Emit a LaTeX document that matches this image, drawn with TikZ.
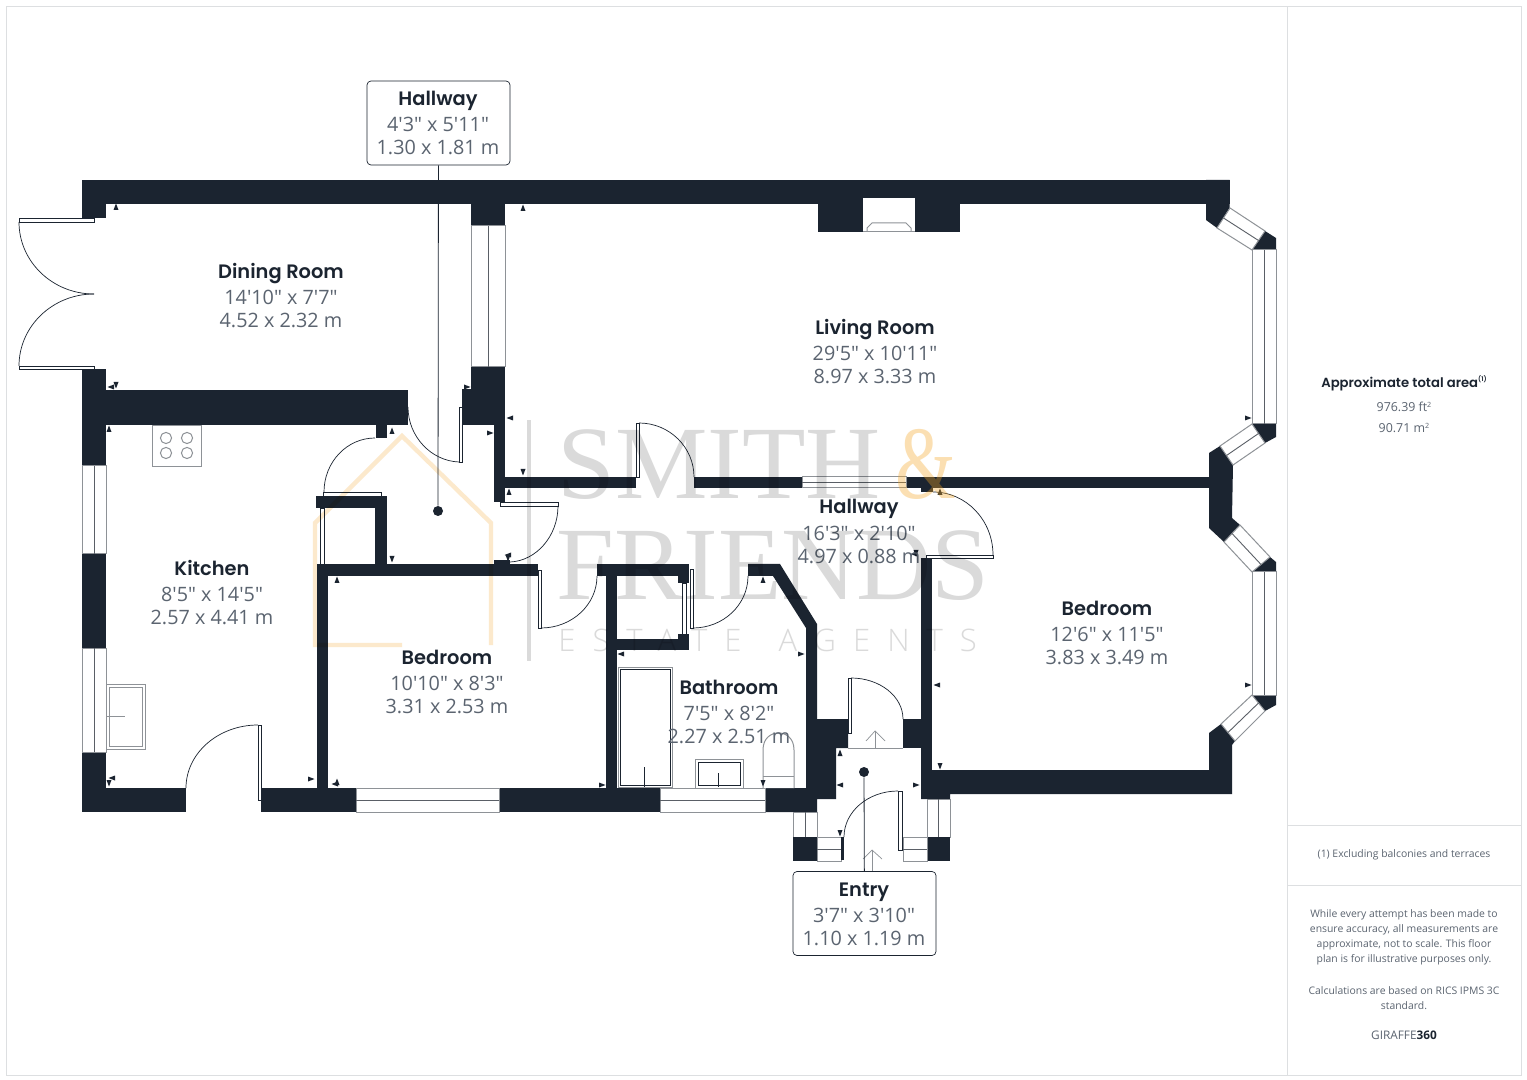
\documentclass[tikz,border=0pt]{standalone}
\usepackage{fontspec}
\setmainfont{Open Sans}[Ligatures=TeXOff]
\newfontfamily\ttlf{Poppins SemiBold}
\newfontfamily\wmserif{Liberation Serif}
\newfontfamily\wmsans[LetterSpace=55]{Open Sans Light}
\usetikzlibrary{calc}
\definecolor{wallc}{HTML}{1B2430}
\definecolor{dimc}{HTML}{5B6470}
\definecolor{framec}{HTML}{DDDFE1}
\definecolor{wing}{HTML}{8E9297}
\definecolor{wmid}{HTML}{5A5F66}
\definecolor{wmgray}{HTML}{DADADA}
\definecolor{wmorange}{HTML}{FCE9CC}
\definecolor{wmamp}{HTML}{F5A623}
\tikzset{
  wallfill/.style={fill=wallc,draw=none},
  thin line/.style={draw=wallc,line width=0.35pt,fill=white},
  winbox/.style={draw=wing,line width=0.5pt,fill=white},
  winmid/.style={draw=wmid,line width=0.45pt},
  fixture/.style={draw=wing,line width=0.5pt,fill=white},
  doorarc/.style={draw=wallc,line width=0.35pt},
  mk/.style={fill=wallc,draw=none},
  ttl/.style={font=\ttlf\fontsize{9.7}{12}\selectfont,text=wallc,inner sep=0pt,anchor=base,yshift=-3.75pt},
  dimt/.style={font=\fontsize{9.9}{12}\selectfont,text=dimc,inner sep=0pt},
  smt/.style={font=\fontsize{5.2}{7}\selectfont,text=dimc,inner sep=0pt},
  lblbox/.style={draw=wallc,line width=0.35pt,fill=white,rounded corners=2pt,minimum width=71.5pt,minimum height=42pt,inner sep=0pt},
  dotn/.style={circle,fill=wallc,draw=none,minimum size=5pt,inner sep=0pt},
  leader/.style={draw=wallc,line width=0.4pt}
}
\newcommand{\wl}[4]{\fill[wallfill] (#1,#2) rectangle (#3,#4);}
\newcommand{\hwin}[4]{\draw[winbox] (#1,#2) rectangle (#3,#4); \draw[winmid] (#1,{(#2+#4)/2}) -- (#3,{(#2+#4)/2});}
\newcommand{\vwin}[4]{\draw[winbox] (#1,#2) rectangle (#3,#4); \draw[winmid] ({(#1+#3)/2},#2) -- ({(#1+#3)/2},#4);}
\newcommand{\thinr}[4]{\draw[thin line] (#1,#2) rectangle (#3,#4);}
\newcommand{\qarc}[6]{\draw[doorarc] (#1,#2) .. controls ($(#1,#2)!.5523!(#3,#4)$) and ($(#5,#6)!.5523!(#3,#4)$) .. (#5,#6);}
\newcommand{\mkU}[2]{\fill[mk] (#1-2.5,#2+3) -- (#1,#2-3.5) -- (#1+2.5,#2+3) -- cycle;}
\newcommand{\mkD}[2]{\fill[mk] (#1-2.5,#2-3) -- (#1,#2+3.5) -- (#1+2.5,#2-3) -- cycle;}
\newcommand{\mkL}[2]{\fill[mk] (#1+3,#2-2.5) -- (#1-3.5,#2) -- (#1+3,#2+2.5) -- cycle;}
\newcommand{\mkR}[2]{\fill[mk] (#1-3,#2-2.5) -- (#1+3.5,#2) -- (#1-3,#2+2.5) -- cycle;}
\begin{document}
\begin{tikzpicture}[x=0.5pt,y=-0.5pt]
\useasboundingbox (0,0) rectangle (1527,1080);
\fill[white] (0,0) rectangle (1527,1080);
% page frame
\draw[framec,line width=0.5pt] (6.5,6.5) rectangle (1521,1075);
\draw[framec,line width=0.5pt] (1287.5,6.5) -- (1287.5,1075);
\draw[framec,line width=0.5pt] (1287.5,825) -- (1521,825);
\draw[framec,line width=0.5pt] (1287.5,885) -- (1521,885);

% ---- walls
\wl{82}{180}{1229.5}{204}
\wl{82}{180}{106}{218}
\wl{82}{369}{106}{466}
\wl{106}{390}{408}{425}
\wl{376}{425}{387}{438}
\wl{82}{554}{106}{648}
\wl{82}{752}{106}{812}
\wl{106}{788}{186}{812}
\wl{261}{788}{356}{812}
\wl{499}{788}{660}{812}
\wl{765}{788}{817}{812}
% fireplace
\wl{818}{204}{960}{232}
\fill[white] (863,198) rectangle (915,232);
\draw[wing,line width=0.5pt] (863,232) -- (915,232);
\draw[wing,line width=0.5pt] (867,232) -- (867,228) -- (872,223) -- (906,223) -- (911,228) -- (911,232);
% dining / living
\wl{471}{204}{505}{226}
\wl{471}{367}{505}{425}
\wl{462}{389}{471}{425}
\wl{494}{425}{505}{502}
\wl{494}{477}{636}{488}
\wl{694}{477}{802}{488}
\wl{906}{477}{1209}{488}
\wl{921}{487}{933}{492}
% cupboard by kitchen
\wl{316}{496}{387}{508}
\wl{375}{496}{387}{565}
% bedroom 1
\wl{317}{564}{538}{576}
\wl{317}{564}{328}{800}
\wl{494}{560}{510}{564}
% bathroom
\wl{597}{564}{689}{576}
\wl{606}{564}{617}{800}
\wl{606}{639}{689}{650}
\wl{678}{576}{689}{583}
\wl{678}{634}{689}{650}
\fill[wallfill] (748,564) -- (780,564) -- (817,624) -- (817,719) -- (848,719) -- (848,748) -- (836,748) -- (836,799) -- (817,799) -- (817,812) -- (765,812) -- (765,788) -- (806,788) -- (806,628) -- (773,576) -- (748,576) -- cycle;
% entry / bedroom 2
\wl{903}{719}{921}{748}
\wl{921}{558}{932}{799}
\fill[wallfill] (921,770) -- (1209,770) -- (1209,733) -- (1221,724) -- (1235,741) -- (1232,745) -- (1232,794) -- (950,794) -- (950,799) -- (921,799) -- cycle;
% bay wedges upper
\fill[wallfill] (1229.5,180) -- (1229.5,208) -- (1217,228) -- (1206,220) -- (1206,204) -- (1206,180) -- cycle;
\fill[wallfill] (1265,231) -- (1276,238) -- (1276,250) -- (1252,250) -- cycle;
\fill[wallfill] (1252,424) -- (1276,424) -- (1276,437) -- (1265,443) -- cycle;
\fill[wallfill] (1220,446) -- (1233,465) -- (1232,518) -- (1240,525) -- (1224,542) -- (1209,528) -- (1209,453) -- cycle;
\fill[wallfill] (1270,557) -- (1276,562) -- (1276,572) -- (1252,572) -- cycle;
\fill[wallfill] (1252,695) -- (1276,695) -- (1276,705) -- (1265,711) -- cycle;

% ---- windows
\vwin{82}{466}{106}{554}
\vwin{82}{648}{106}{752}
\hwin{356}{788}{499}{812}
\hwin{660}{788}{765}{812}
\hwin{802}{477}{906}{488}
\vwin{471}{226}{505}{367}
\vwin{1252}{250}{1276}{424}
\vwin{1252}{572}{1276}{695}
\vwin{793}{812}{817}{837}
\vwin{927}{799}{950}{837}
\draw[winbox] (1230,208) -- (1265,231) -- (1252,250) -- (1217,228) -- cycle;
\draw[winmid] (1223.5,218) -- (1258.5,240.5);
\draw[winbox] (1252,424) -- (1265,443) -- (1233,465) -- (1220,446) -- cycle;
\draw[winmid] (1226.5,455.5) -- (1258.5,433.5);
\draw[winbox] (1240,525) -- (1270,557) -- (1252,572) -- (1224,542) -- cycle;
\draw[winmid] (1232,533.5) -- (1261,564.5);
\draw[winbox] (1252,695) -- (1265,711) -- (1235,741) -- (1221,724) -- cycle;
\draw[winmid] (1228,732.5) -- (1258.5,703);
% porch
\wl{793}{837}{817}{861}
\wl{927}{837}{950}{861}
\hwin{817}{837}{841}{861}
\hwin{903}{837}{927}{861}
\wl{841}{837}{844}{860}

% ---- door leaves
\thinr{19}{218}{94}{222}
\thinr{19}{366}{94}{369}
\qarc{19}{222}{19}{294}{94}{294}
\qarc{19}{366}{19}{294}{94}{294}
\thinr{459}{407}{462}{462}
\qarc{408}{407}{408}{460}{459}{462}
\thinr{323}{492}{381}{496}
\qarc{375}{438}{324}{438}{324}{492}
\draw[thin line] (320,508) rectangle (324,564);
\thinr{500}{502}{558}{506}
\qarc{558}{506}{558}{560}{510}{562}
\thinr{538}{570}{541}{628}
\qarc{541}{628}{597}{628}{597}{576}
\thinr{682}{583}{686}{634}
\thinr{690}{569}{693}{628}
\qarc{693}{628}{748}{628}{748}{576}
\thinr{636}{423}{639}{477}
\qarc{639}{423}{694}{423}{694}{477}
\thinr{926}{555}{993}{558}
\qarc{933}{492}{993}{492}{993}{555}
\thinr{848}{678}{851}{733}
\qarc{851}{678}{903}{678}{903}{719}
\draw[wing,line width=0.5pt] (848,748) -- (903,748);
\thinr{898}{791}{902}{850}
\qarc{898}{791}{844}{791}{844}{837}
\thinr{258}{725}{261}{800}
\qarc{258}{725}{186}{725}{186}{788}
% threshold arrows
\draw[doorarc,draw=wing] (875,748) -- (875,731);
\draw[doorarc,draw=wing] (866,741) -- (875,731) -- (885,741);
\draw[doorarc,draw=wing] (872,871) -- (872,850);
\draw[doorarc,draw=wing] (863,859) -- (872,850) -- (882,859);

% ---- fixtures
\draw[fixture] (152,426) rectangle (201,467);
\foreach \cx/\cy in {166/438,187/438,166/453,187/453} \draw[fixture] (\cx,\cy) circle[radius=5.6];
\draw[fixture] (106,684) rectangle (145,749);
\draw[fixture] (109,687) rectangle (142,746);
\draw[fixture] (106,716) -- (125,716);
\draw[fixture] (618,667) rectangle (672,787);
\draw[fixture,draw=wallc] (620,669) rectangle (670,785);
\draw[fixture,draw=wallc] (644,767) -- (644,787);
\draw[fixture] (695,759) rectangle (743,788);
\draw[fixture,draw=wallc] (698,762) rectangle (740,785);
\draw[fixture,draw=wallc] (718,773) -- (718,787);
\draw[fixture] (763,788) -- (763,750) .. controls (763,738) and (771,733) .. (778.5,733) .. controls (786,733) and (794,738) .. (794,750) -- (794,788);
\draw[fixture] (763,776) -- (794,776);

% ---- small markers
\mkU{116}{207} \mkL{111}{387} \mkD{116}{385} \mkR{467}{387} \mkU{392}{431} \mkU{523}{208}
\mkU{109}{429} \mkL{510}{418} \mkR{490}{433} \mkD{523}{472} \mkU{509}{492} \mkD{392}{559}
\mkU{337}{580} \mkL{508}{555} \mkD{508}{558} \mkD{109}{783} \mkL{112}{778} \mkR{311}{779}
\mkL{335}{784} \mkU{337}{782} \mkR{602}{785} \mkL{621}{654} \mkR{801}{654} \mkU{763}{580}
\mkD{763}{783} \mkU{840}{753} \mkL{840}{785} \mkR{916}{785} \mkD{840}{833} \mkD{940}{766}
\mkL{937}{685} \mkR{1248}{418} \mkR{1248}{685} \mkU{940}{492} \mkD{916}{553} \mkL{914}{554}

% ---- leaders and label boxes
\node[dotn] (dothall) at (438,511) {};
\node[dotn] (dotentry) at (864,772) {};
\node[lblbox] (boxhall) at (438.5,123) {};
\node[lblbox] (boxentry) at (864.5,913.5) {};
\draw[leader] (boxhall) -- (dothall);
\draw[leader] (boxentry) -- (dotentry);

% ---- room texts
\node[ttl] (t1) at (438,98) {Hallway};
\node[dimt] (t1a) at (438,124) {4'3" x 5'11"};
\node[dimt] (t1b) at (438,147) {1.30 x 1.81 m};
\node[ttl] (t2) at (281,271) {Dining Room};
\node[dimt] (t2a) at (281,297) {14'10" x 7'7"};
\node[dimt] (t2b) at (281,320) {4.52 x 2.32 m};
\node[ttl] (t3) at (875,327) {Living Room};
\node[dimt] (t3a) at (875,353) {29'5" x 10'11"};
\node[dimt] (t3b) at (875,376) {8.97 x 3.33 m};
\node[ttl] (t4) at (212,568) {Kitchen};
\node[dimt] (t4a) at (212,594) {8'5" x 14'5"};
\node[dimt] (t4b) at (212,617) {2.57 x 4.41 m};
\node[ttl] (t5) at (447,657) {Bedroom};
\node[dimt] (t5a) at (447,683) {10'10" x 8'3"};
\node[dimt] (t5b) at (447,706) {3.31 x 2.53 m};
\node[ttl] (t6) at (729,687) {Bathroom};
\node[dimt] (t6a) at (729,713) {7'5" x 8'2"};
\node[dimt] (t6b) at (729,736) {2.27 x 2.51 m};
\node[ttl] (t7) at (859,506) {Hallway};
\node[dimt] (t7a) at (859,533) {16'3" x 2'10"};
\node[dimt] (t7b) at (859,556) {4.97 x 0.88 m};
\node[ttl] (t8) at (1107,608) {Bedroom};
\node[dimt] (t8a) at (1107,634) {12'6" x 11'5"};
\node[dimt] (t8b) at (1107,657) {3.83 x 3.49 m};
\node[ttl] (t9) at (864,889) {Entry};
\node[dimt] (t9a) at (864,915) {3'7" x 3'10"};
\node[dimt] (t9b) at (864,938) {1.10 x 1.19 m};

% ---- side panel
\node[ttl,font=\ttlf\fontsize{6.6}{8}\selectfont,yshift=1pt] (area) at (1404,382) {Approximate total area\raisebox{3pt}{\fontsize{3.2}{4}\selectfont (1)}};
\node[smt,font=\fontsize{6.2}{7}\selectfont] (ft) at (1404,407) {976.39 ft\raisebox{2pt}{\fontsize{3.6}{4}\selectfont 2}};
\node[smt,font=\fontsize{6.2}{7}\selectfont] (mm) at (1404,428) {90.71 m\raisebox{2pt}{\fontsize{3.6}{4}\selectfont 2}};
\node[smt] (excl) at (1404,855) {(1) Excluding balconies and terraces};
\node[smt] (d1) at (1404,914.5) {While every attempt has been made to};
\node[smt] (d2) at (1404,929.5) {ensure accuracy, all measurements are};
\node[smt] (d3) at (1404,944.5) {approximate, not to scale. This floor};
\node[smt] (d4) at (1404,959.5) {plan is for illustrative purposes only.};
\node[smt] (d5) at (1404,990.5) {Calculations are based on RICS IPMS 3C};
\node[smt] (d6) at (1404,1005.5) {standard.};
\node[smt,font=\fontsize{5.9}{7}\selectfont] (gir) at (1404,1035) {GIRAFFE\textcolor{wallc}{\bfseries 360}};

% ---- watermark
\begin{scope}[blend mode=multiply]
\node[inner sep=0pt,anchor=base west,text=wmgray,font=\wmserif\fontsize{52}{53}\selectfont] (wm1) at (557,499) {SMITH};
\node[inner sep=0pt,anchor=base west,text=wmgray,font=\wmserif\fontsize{52}{53}\selectfont] (wm3) at (556,600) {FRIENDS};
\node[inner sep=0pt,anchor=base west,text=wmgray,font=\wmsans\fontsize{15.5}{16}\selectfont] (wm4) at (558,652) {ESTATE\hspace{6pt} AGENTS};
\fill[wmgray] (526.5,420) rectangle (530.5,661);
\draw[wmorange,line width=2.2pt] (402,645) -- (315,645) -- (315,523) -- (402,436) -- (491,523) -- (491,645);
\end{scope}
\node[inner sep=0pt,anchor=base west,text=wmamp,text opacity=.35,font=\wmserif\fontsize{52}{53}\selectfont] (wm2) at (895,499) {\scalebox{.75}[1]{\&}};
\end{tikzpicture}
\end{document}
